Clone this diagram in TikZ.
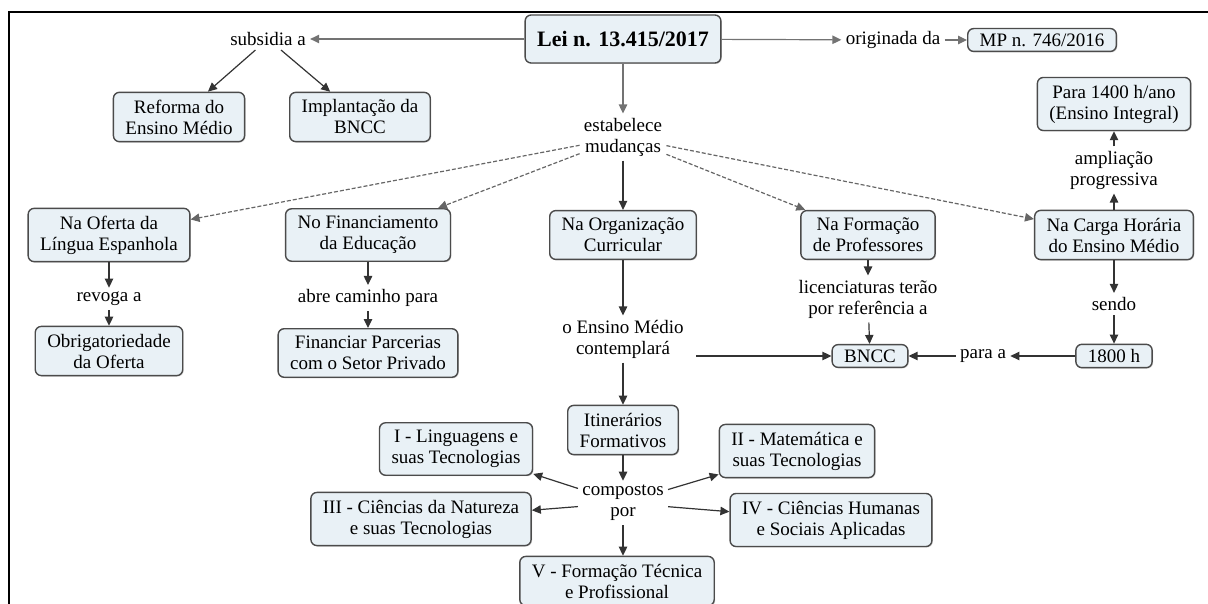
\documentclass[tikz,border=0pt]{standalone}
\usepackage{fontspec}
\setmainfont{Liberation Serif}
\usetikzlibrary{arrows.meta,shadows}
\definecolor{boxfill}{RGB}{233,241,246}
\definecolor{boxline}{RGB}{75,75,75}

\begin{document}
\begin{tikzpicture}[x=0.5pt, y=-0.5pt, >={Triangle[length=4.5pt,width=4.2pt]},
  box/.style={draw=boxline, fill=boxfill, rounded corners=3pt, line width=0.7pt,
    align=center, inner xsep=6pt, inner ysep=3.7pt,
    drop shadow={shadow xshift=0.5pt, shadow yshift=-0.5pt, fill=black!30},
    font=\fontsize{9.5}{10.5}\selectfont},
  onebox/.style={box, inner ysep=2.5pt},
  lbl/.style={align=center, inner sep=2pt, font=\fontsize{9.5}{10.5}\selectfont},
  arr/.style={->, line width=0.6pt, black!80},
  gry/.style={->, line width=0.6pt, black!55},
  dsh/.style={->, line width=0.6pt, black!60, dash pattern=on 2pt off 1pt}]
\useasboundingbox (0,0) rectangle (1208,604);
\draw[line width=1pt] (1208,12) -- (9,12) -- (9,604);

\node[box, font=\fontsize{11}{13}\selectfont\bfseries, minimum height=24pt] (lei) at (623,39) {Lei n. 13.415/2017};
\node[lbl] (subs) at (268,39) {subsidia a};
\node[lbl] (orig) at (893,40) {originada da};
\node[onebox] (mp) at (1042,40) {MP n. 746/2016};
\node[box] (reforma) at (179,117) {Reforma do\\Ensino Médio};
\node[box] (implant) at (360,117) {Implantação da\\BNCC};
\node[lbl] (estab) at (623,137) {estabelece\\mudanças};

\node[box] (oferta) at (109,235) {Na Oferta da\\Língua Espanhola};
\node[box] (financ) at (368,235) {No Financiamento\\da Educação};
\node[box] (organ) at (623,235) {Na Organização\\Curricular};
\node[box] (formac) at (868,235) {Na Formação\\de Professores};
\node[box] (carga) at (1114,235) {Na Carga Horária\\do Ensino Médio};
\node[lbl] (amplia) at (1114,170) {ampliação\\progressiva};
\node[box] (integral) at (1114,104) {Para 1400 h/ano\\(Ensino Integral)};

\node[lbl] (revoga) at (109,299) {revoga a};
\node[box] (obrig) at (109,351) {Obrigatoriedade\\da Oferta};
\node[lbl] (abre) at (368,298) {abre caminho para};
\node[box] (parc) at (368,353) {Financiar Parcerias\\com o Setor Privado};
\node[lbl] (contempla) at (623,339) {o Ensino Médio\\contemplará};
\node[lbl] (licenc) at (868,299) {licenciaturas terão\\por referência a};
\node[lbl] (sendo) at (1114,304) {sendo};
\node[onebox] (bncc) at (870,356) {BNCC};
\node[lbl] (paraa) at (983,356) {para a};
\node[onebox] (h1800) at (1114,356) {1800 h};

\node[box] (itin) at (623,430) {Itinerários\\Formativos};
\node[lbl] (compostos) at (623,503) {compostos\\por};
\node[box] (ling) at (456,449) {I - Linguagens e\\suas Tecnologias};
\node[box] (mat) at (797,451) {II - Matemática e\\suas Tecnologias};
\node[box] (nat) at (421,519) {III - Ciências da Natureza\\e suas Tecnologias};
\node[box] (hum) at (831,520) {IV - Ciências Humanas\\e Sociais Aplicadas};
\node[box] (prof) at (617,581) {V - Formação Técnica\\e Profissional};

\draw[gry] (lei) -- (subs);
\draw[gry] (lei) -- (orig);
\draw[gry] (orig) -- (mp);
\draw[arr] (subs) -- (reforma);
\draw[arr] (subs) -- (implant);
\draw[gry] (lei) -- (estab);
\draw[dsh] (estab) -- (oferta);
\draw[dsh] (estab) -- (financ);
\draw[arr] (estab) -- (organ);
\draw[dsh] (estab) -- (formac);
\draw[dsh] (estab) -- (carga);
\draw[arr] (carga) -- (amplia);
\draw[arr] (amplia) -- (integral);
\draw[arr] (oferta) -- (revoga);
\draw[arr] (revoga) -- (obrig);
\draw[arr] (financ) -- (abre);
\draw[arr] (abre) -- (parc);
\draw[arr] (organ) -- (contempla);
\draw[arr] (formac) -- (licenc);
\draw[arr] (licenc) -- (bncc);
\draw[arr] (carga) -- (sendo);
\draw[arr] (sendo) -- (h1800);
\draw[arr] (h1800) -- (paraa);
\draw[arr] (paraa) -- (bncc);
\draw[arr] ([xshift=4pt]contempla.east |- bncc) -- (bncc);
\draw[arr] (contempla) -- (itin);
\draw[arr] (itin) -- (compostos);
\draw[arr] (compostos) -- (ling);
\draw[arr] (compostos) -- (mat);
\draw[arr] (compostos) -- (nat);
\draw[arr] (compostos) -- (hum);
\draw[arr] (compostos) -- (compostos |- prof.north);
\end{tikzpicture}
\end{document}
